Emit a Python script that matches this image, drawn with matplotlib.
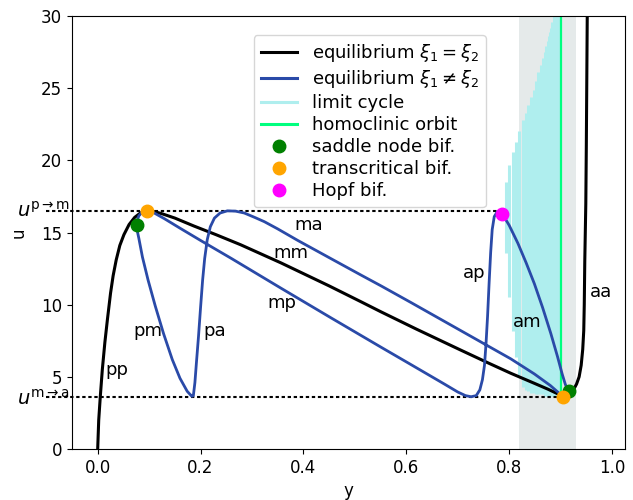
import matplotlib
matplotlib.use("Agg")
import matplotlib.pyplot as plt

# symmetric equilibrium branch (xi1 = xi2): pp -> mm -> aa
sym_y = [0.000, 0.002, 0.005, 0.009, 0.014, 0.019, 0.025, 0.030, 0.036, 0.043,
         0.051, 0.061, 0.072, 0.083, 0.095, 0.110, 0.125, 0.150, 0.187, 0.230,
         0.278, 0.356, 0.450, 0.512, 0.551, 0.620, 0.706, 0.760, 0.803, 0.849,
         0.875, 0.894, 0.905, 0.912, 0.918, 0.925, 0.931, 0.936, 0.940, 0.943,
         0.945, 0.946, 0.947, 0.949, 0.950, 0.951, 0.952]
sym_u = [0.0, 2.0, 3.6, 5.5, 7.4, 9.0, 10.8, 12.0, 13.1, 14.1,
         14.85, 15.55, 16.05, 16.35, 16.5, 16.45, 16.3, 16.0, 15.45, 14.85,
         14.15, 12.9, 11.3, 10.2, 9.5, 8.3, 6.85, 5.95, 5.25, 4.55,
         4.15, 3.83, 3.65, 3.66, 3.8, 4.1, 4.5, 5.0, 5.8, 6.9,
         8.2, 10.0, 13.0, 17.0, 21.0, 26.0, 31.0]

# asymmetric equilibrium branch (xi1 != xi2), one closed loop:
# ma -> pa -> pm -> fold -> mp -> ap -> am -> fold
asym_y = [0.905, 0.880, 0.849, 0.803, 0.706, 0.609, 0.551, 0.512, 0.453, 0.389,
          0.350, 0.324, 0.305, 0.285, 0.268, 0.252, 0.238, 0.227, 0.219, 0.213,
          0.208, 0.204, 0.200, 0.196, 0.192, 0.189, 0.186, 0.183, 0.174, 0.160,
          0.145, 0.128, 0.112, 0.098, 0.087, 0.080, 0.077, 0.076, 0.077, 0.080,
          0.086, 0.095, 0.110, 0.130, 0.160, 0.200, 0.260, 0.356, 0.453, 0.551,
          0.609, 0.674, 0.700, 0.715, 0.726, 0.736, 0.743, 0.748, 0.752, 0.755,
          0.758, 0.761, 0.764, 0.767, 0.771, 0.777, 0.783, 0.787, 0.800, 0.817,
          0.833, 0.849, 0.865, 0.881, 0.894, 0.903, 0.909, 0.913, 0.916, 0.912,
          0.905]
asym_u = [3.62, 4.4, 5.2, 6.25, 8.2, 10.15, 11.3, 12.05, 13.2, 14.45,
          15.25, 15.75, 16.05, 16.35, 16.48, 16.5, 16.35, 16.0, 15.4, 14.5,
          13.2, 11.7, 9.8, 7.8, 6.0, 4.6, 3.7, 3.65, 4.0, 4.9,
          6.2, 8.0, 9.9, 11.7, 13.3, 14.6, 15.1, 15.5, 15.85, 16.15,
          16.4, 16.5, 16.35, 15.95, 15.3, 14.45, 13.2, 11.15, 9.1, 7.05,
          5.85, 4.5, 3.95, 3.7, 3.62, 3.7, 4.1, 4.8, 5.8, 7.3,
          9.2, 11.5, 13.6, 15.2, 16.1, 16.45, 16.42, 16.27, 15.5, 14.25,
          12.9, 11.45, 9.8, 8.0, 6.4, 5.2, 4.5, 4.15, 4.0, 3.75,
          3.62]

# limit cycles born at the Hopf point: amplitude range at each y
cycle_y = [0.794, 0.800, 0.807, 0.813, 0.819, 0.827, 0.832, 0.837, 0.843, 0.848,
           0.853, 0.857, 0.861, 0.865, 0.869, 0.872, 0.875, 0.877, 0.879, 0.881,
           0.884, 0.887, 0.889, 0.891, 0.893, 0.895, 0.897]
cycle_lo = [13.6, 10.5, 8.2, 6.4, 5.1, 4.3, 4.1, 4.0, 3.9, 3.9,
            3.8, 3.8, 3.8, 3.8, 3.7, 3.7, 3.7, 3.7, 3.7, 3.7,
            3.7, 3.7, 3.7, 3.7, 3.7, 3.7, 3.7]
cycle_hi = [18.5, 19.7, 20.6, 21.3, 22.0, 22.8, 23.3, 23.8, 24.4, 24.9,
            25.5, 26.1, 26.6, 27.1, 27.5, 27.9, 28.3, 28.6, 28.9, 29.2,
            29.6, 30.5, 31.0, 31.0, 31.0, 31.0, 31.0]

homoclinic_y = 0.90
region_lo, region_hi = 0.82, 0.93

# bifurcation points (y, u)
saddle_y = [0.076, 0.916]
saddle_u = [15.5, 4.05]
trans_y = [0.095, 0.905]
trans_u = [16.5, 3.62]
hopf_y = [0.787]
hopf_u = [16.27]

u_pm = 16.5
u_ma = 3.6

branch_labels = ["pp", "pm", "pa", "ma", "mm", "mp", "ap", "am", "aa"]
label_y = [0.037, 0.097, 0.228, 0.411, 0.375, 0.359, 0.732, 0.836, 0.979]
label_u = [5.5, 8.2, 8.2, 15.5, 13.55, 10.1, 12.2, 8.8, 10.9]

blue = "#2a4aa8"
cyan = "#afeeee"
spring = "#00ff7f"

fig = plt.figure(figsize=(6.33, 5.0), dpi=100)
ax = fig.add_axes([0.1137, 0.102, 0.8735, 0.866])

ax.axvspan(region_lo, region_hi, color="#e5eaea", lw=0, zorder=0)
ax.vlines(cycle_y, cycle_lo, cycle_hi, color=cyan, lw=2.2, zorder=1)
ax.axvline(homoclinic_y, ymin=u_ma / 30, color=spring, lw=1.6, zorder=2)

ax.plot(sym_y, sym_u, color="black", lw=2.2, zorder=3)
ax.plot(asym_y, asym_u, color=blue, lw=2.0, zorder=3)

dots = dict(color="black", lw=1.5, linestyle=(0, (1.6, 1.3)), clip_on=False, zorder=2)
ax.hlines(u_pm, -0.1, hopf_y[0], **dots)
ax.hlines(u_ma, -0.1, trans_y[1], **dots)

ax.plot(saddle_y, saddle_u, "o", color="green", ms=9, zorder=4)
ax.plot(trans_y, trans_u, "o", color="orange", ms=9, zorder=4)
ax.plot(hopf_y, hopf_u, "o", color="magenta", ms=9, zorder=4)

for name, ly, lu in zip(branch_labels, label_y, label_u):
    ax.text(ly, lu, name, fontsize=13, ha="center", va="center", zorder=5)

ax.text(-0.004, u_pm, r"$u^{\rm p\to m}$", transform=ax.get_yaxis_transform(),
        ha="right", va="center", fontsize=14)
ax.text(-0.004, u_ma - 0.1, r"$u^{\rm m\to a}$", transform=ax.get_yaxis_transform(),
        ha="right", va="center", fontsize=14)

handles = [
    plt.Line2D([], [], color="black", lw=2.2),
    plt.Line2D([], [], color=blue, lw=2.2),
    plt.Line2D([], [], color=cyan, lw=2.2),
    plt.Line2D([], [], color=spring, lw=2.2),
    plt.Line2D([], [], marker="o", ls="", color="green", ms=9),
    plt.Line2D([], [], marker="o", ls="", color="orange", ms=9),
    plt.Line2D([], [], marker="o", ls="", color="magenta", ms=9),
]
names = [r"equilibrium $\xi_1 = \xi_2$", r"equilibrium $\xi_1 \neq \xi_2$",
         "limit cycle", "homoclinic orbit", "saddle node bif.",
         "transcritical bif.", "Hopf bif."]
ax.legend(handles, names, loc="upper left", bbox_to_anchor=(0.329, 0.956),
          borderaxespad=0, fontsize=13, numpoints=1, labelspacing=0.22,
          handletextpad=0.8)

ax.set_xlim(-0.05, 1.025)
ax.set_ylim(0, 30)
ax.tick_params(labelsize=12)
ax.set_xlabel("y", fontsize=12)
ax.set_ylabel("u", fontsize=12, labelpad=10)

fig.savefig("out.png", dpi=100)
